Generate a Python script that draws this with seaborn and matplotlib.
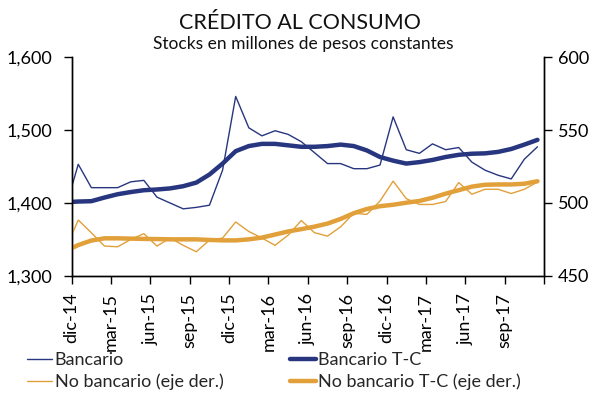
import matplotlib
matplotlib.use("Agg")
import matplotlib.pyplot as plt
import seaborn as sns
import pandas as pd
import numpy as np

# Months: nov-14 (partially clipped at the left edge) through nov-17
months = ["nov-14", "dic-14", "ene-15", "feb-15", "mar-15", "abr-15", "may-15", "jun-15",
          "jul-15", "ago-15", "sep-15", "oct-15", "nov-15", "dic-15", "ene-16", "feb-16",
          "mar-16", "abr-16", "may-16", "jun-16", "jul-16", "ago-16", "sep-16", "oct-16",
          "nov-16", "dic-16", "ene-17", "feb-17", "mar-17", "abr-17", "may-17", "jun-17",
          "jul-17", "ago-17", "sep-17", "oct-17", "nov-17"]

bancario = [1391, 1453, 1421, 1421, 1421, 1429, 1431, 1408, 1400, 1392, 1394, 1397, 1445,
            1546, 1503, 1492, 1499, 1494, 1484, 1469, 1454, 1454, 1447, 1447, 1452,
            1518, 1473, 1468, 1481, 1473, 1476, 1456, 1445, 1438, 1433, 1460, 1477]

bancario_tc = [1401, 1402, 1402.5, 1407.5, 1412, 1415, 1417.5, 1418.5, 1420, 1423, 1428,
               1439, 1454, 1471, 1478, 1481, 1481, 1479, 1477, 1477, 1478, 1480, 1478,
               1472, 1463, 1458, 1454, 1456, 1459, 1463, 1466, 1467.5, 1468, 1470, 1474,
               1480, 1486.5]

no_bancario = [467.7, 488.3, 479.6, 470.5, 470, 475, 479, 470.5, 476, 471, 466.6, 474.6,
               476, 487, 480.5, 476, 471, 478, 488, 479.7, 477.3, 483.7, 493, 492.2,
               501.4, 515, 503, 499, 499, 501, 514, 506, 509.4, 509.4, 506.5, 509.4, 514.4]

no_bancario_tc = [467, 471.2, 474.3, 475.8, 475.8, 475.6, 475.4, 475.3, 475.1, 475.1,
                  475.1, 474.7, 474.4, 474.4, 475.1, 476.3, 478.4, 480.5, 482.1, 483.8,
                  485.9, 489.1, 493, 495.9, 497.8, 498.8, 500.2, 501.4, 503.6, 506.4,
                  508.8, 511.2, 512.5, 512.7, 512.7, 513.2, 514.9]

tick_labels = ["dic-14", "mar-15", "jun-15", "sep-15", "dic-15", "mar-16",
               "jun-16", "sep-16", "dic-16", "mar-17", "jun-17", "sep-17", ""]

BLUE = "#27367f"
ORANGE = "#e1a03a"

df = pd.DataFrame({
    "pos": np.arange(len(months)) - 1,   # dic-14 sits at position 0
    "mes": months,
    "Bancario": bancario,
    "Bancario T-C": bancario_tc,
    "No bancario (eje der.)": no_bancario,
    "No bancario T-C (eje der.)": no_bancario_tc,
})

sns.set_theme(style="white")
plt.rcParams["font.family"] = ["Lato", "DejaVu Sans"]
plt.rcParams["axes.unicode_minus"] = False

fig = plt.figure(figsize=(5.93, 3.97), dpi=100)
ax = fig.add_axes([0.1209, 0.3048, 0.9174 - 0.1209, 0.8564 - 0.3048])
ax2 = ax.twinx()

sns.lineplot(data=df, x="pos", y="Bancario", ax=ax, color=BLUE, lw=1.0,
             label="Bancario", legend=False)
sns.lineplot(data=df, x="pos", y="Bancario T-C", ax=ax, color=BLUE, lw=3.2,
             label="Bancario T-C", legend=False)
sns.lineplot(data=df, x="pos", y="No bancario (eje der.)", ax=ax2, color=ORANGE, lw=1.0,
             label="No bancario (eje der.)", legend=False)
sns.lineplot(data=df, x="pos", y="No bancario T-C (eje der.)", ax=ax2, color=ORANGE, lw=3.2,
             label="No bancario T-C (eje der.)", legend=False)

ax.set_xlim(-0.5, 35.5)
ax.set_ylim(1300, 1600)
ax2.set_ylim(450, 600)
ax.set_yticks([1300, 1400, 1500, 1600])
ax.set_yticklabels(["1,300", "1,400", "1,500", "1,600"])
ax2.set_yticks([450, 500, 550, 600])
ax2.set_yticklabels(["450", "500", "550", "600"])

xt = np.arange(-0.5, 36, 3)
ax.set_xticks(xt)
ax.set_xticklabels(tick_labels, rotation=90, fontsize=13)

for a in (ax, ax2):
    a.set_xlabel("")
    a.set_ylabel("")
    a.spines["top"].set_visible(False)
    for s in ("left", "right", "bottom"):
        a.spines[s].set_color("black")
        a.spines[s].set_linewidth(1.0)
    a.grid(False)

ax.tick_params(axis="y", which="both", left=True, direction="out", length=6,
               width=1, pad=8, labelsize=13, colors="black")
ax.tick_params(axis="x", bottom=True, direction="out", length=6, width=1, pad=6,
               colors="black")
ax2.tick_params(axis="y", right=True, direction="out", length=6, width=1, pad=4,
                labelsize=13, colors="black")

fig.text(0.506, 0.943, "CRÉDITO AL CONSUMO", ha="center", va="center", fontsize=15.5,
         color="#111111")
fig.text(0.512, 0.890, "Stocks en millones de pesos constantes", ha="center",
         va="center", fontsize=12.5, color="#111111")

h1, l1 = ax.get_legend_handles_labels()
h2, l2 = ax2.get_legend_handles_labels()
handles = [h1[0], h2[0], h1[1], h2[1]]
labels = [l1[0], l2[0], l1[1], l2[1]]
fig.legend(handles, labels, ncol=2, loc="lower left", bbox_to_anchor=(0.045, 0.018),
           frameon=False, fontsize=13, handlelength=1.4, handletextpad=0.15,
           columnspacing=3.7, labelspacing=0.28, borderpad=0, borderaxespad=0)

fig.savefig("out.png", dpi=100)
